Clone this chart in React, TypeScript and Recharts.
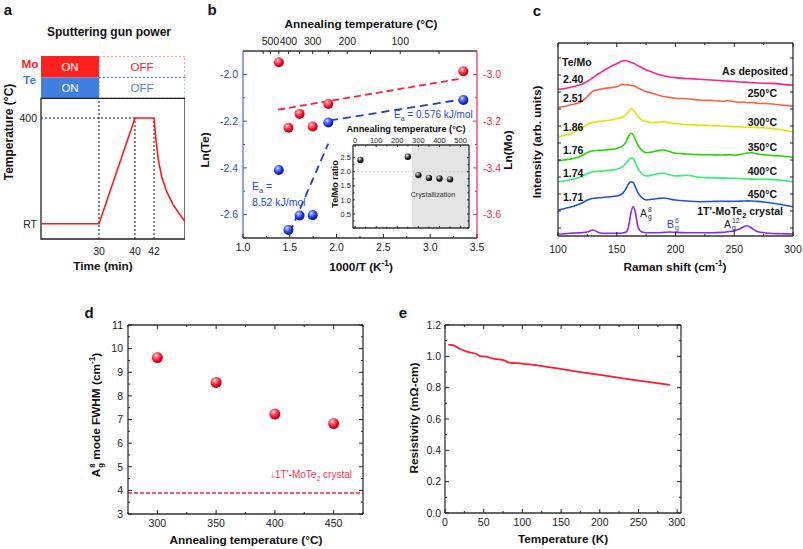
import React from "react"
import { ComposedChart, Line, Scatter, XAxis, YAxis, ReferenceLine, ReferenceArea } from "recharts"

const FONT = '"Liberation Sans", Arial, Helvetica, sans-serif'

// ---------- a: process schematic ----------
const RT = 25
const profileTime = [0, 30, 40, 42, 42.65, 43.4, 44.5, 46.1, 48.2, 50.4, 52] // min
const profileTemp = [RT, RT, 400, 400, 322, 251, 192, 139, 92, 57, 33] // °C
const timeMarks = [30, 40, 42]
// the time axis of the schematic is not to scale: segment knots -> axis units
const timeKnots = [0, 30, 40, 42, 52]
const axisKnots = [0, 58, 94, 113, 144]

// ---------- b: Arrhenius plot ----------
const annealTemps = [25, 250, 300, 350, 400, 450]
const lnTe = [-2.11, -2.206, -2.602, -2.604, -2.666, -2.409]
const lnMo = [-2.987, -3.127, -3.223, -3.169, -3.228, -2.948]
const fitMoX = [1.375, 3.345]
const fitMoY = [-3.151, -3.017]
const fitTeLowX = [1.93, 3.34]
const fitTeLowY = [-2.197, -2.107]
const fitTeHighX = [1.5, 1.911]
const fitTeHighY = [-2.677, -2.296]
const topTempTicks = [550, 500, 450, 400, 350, 300, 250, 200, 150, 100, 50]
const topTempLabels = [500, 400, 300, 200, 100]

// inset: Te/Mo ratio
const insetTemps = [25, 250, 300, 350, 400, 450]
const insetRatio = [2.42, 2.53, 1.88, 1.78, 1.76, 1.73]
const crystallizationStart = 270

// ---------- c: Raman spectra ----------
const ramanShift = [100, 105, 110, 115, 120, 125, 130, 135, 140, 145, 150, 155, 158, 160, 162, 164, 166, 168, 171, 175, 180, 185, 190, 195, 200, 210, 220, 230, 240, 245, 250, 255, 258, 261, 265, 270, 280, 290, 300]
const specAsDeposited = [146.7, 147.3, 148.5, 150.0, 151.5, 154.5, 158.5, 162.5, 166.3, 169.5, 172.3, 175.0, 175.3, 174.6, 173.8, 173.0, 171.6, 170.4, 168.5, 166.0, 164.0, 161.8, 160.2, 159.0, 158.4, 157.5, 156.8, 156.0, 155.2, 154.9, 154.5, 154.0, 153.9, 153.6, 153.4, 153.0, 152.6, 151.9, 150.8]
const spec250 = [128.7, 129.5, 131.0, 132.2, 134.3, 139.5, 145.0, 146.5, 147.6, 148.4, 149.2, 151.6, 151.0, 151.3, 150.5, 150.2, 149.5, 148.0, 146.5, 144.6, 142.8, 141.0, 139.5, 138.6, 137.8, 137.2, 136.0, 135.6, 134.8, 135.2, 134.3, 133.6, 134.0, 133.3, 133.5, 132.8, 132.2, 131.0, 130.0]
const spec300 = [99.3, 100.5, 102.0, 104.5, 107.7, 111.8, 113.6, 114.6, 115.3, 116.0, 117.2, 119.0, 121.5, 124.2, 127.2, 126.0, 122.8, 119.5, 116.2, 114.5, 113.4, 113.8, 114.2, 113.2, 112.2, 111.4, 110.8, 110.5, 110.0, 109.6, 109.4, 109.2, 109.0, 108.8, 108.7, 108.4, 107.8, 106.2, 104.0]
const spec350 = [75.3, 76.0, 76.8, 78.0, 80.2, 83.4, 85.3, 85.6, 86.0, 86.6, 87.6, 90.0, 94.3, 99.3, 102.7, 101.0, 96.0, 91.0, 86.2, 83.4, 84.0, 85.3, 86.0, 84.4, 82.8, 82.0, 81.4, 81.2, 81.0, 81.2, 81.0, 81.5, 82.3, 83.0, 83.3, 82.0, 80.8, 80.0, 78.7]
const spec400 = [54.3, 55.0, 56.0, 57.4, 59.4, 62.6, 64.3, 64.8, 65.3, 65.9, 66.8, 69.3, 72.7, 76.0, 78.0, 77.3, 72.7, 67.7, 62.8, 60.0, 61.0, 62.2, 62.7, 61.2, 60.0, 60.7, 58.7, 58.3, 57.9, 57.8, 57.7, 57.4, 57.2, 57.0, 56.9, 56.8, 56.6, 55.8, 54.3]
const spec450 = [26.0, 27.2, 28.7, 30.4, 32.7, 36.0, 37.7, 38.2, 38.7, 39.3, 40.0, 42.7, 47.7, 52.0, 54.3, 53.3, 48.7, 43.3, 38.7, 36.0, 36.7, 37.5, 38.0, 37.0, 36.0, 35.0, 34.3, 34.5, 34.8, 34.6, 34.7, 34.9, 35.0, 35.1, 35.0, 34.6, 33.3, 31.5, 29.3]
const specCrystal = [1.7, 2.2, 2.7, 3.0, 3.3, 4.0, 6.0, 3.3, 2.7, 2.7, 2.7, 3.0, 4.0, 9.3, 22.7, 29.5, 22.7, 9.3, 4.3, 3.3, 3.3, 3.3, 3.6, 4.0, 3.6, 3.3, 3.3, 3.3, 3.6, 4.3, 5.3, 7.3, 9.3, 10.3, 7.7, 4.3, 2.7, 2.3, 2.0]
const ratioLabels = ["2.40", "2.51", "1.86", "1.76", "1.74", "1.71"]
const sampleLabels = ["As deposited", "250°C", "300°C", "350°C", "400°C", "450°C"]

// ---------- d: FWHM ----------
const fwhmTemps = [300, 350, 400, 450]
const fwhm = [9.62, 8.57, 7.23, 6.83]
const crystalFwhm = 3.89

// ---------- e: resistivity ----------
const resTemp = [4.3, 8.6, 19.4, 28, 40.9, 45.2, 53.8, 62.4, 77.5, 81.8, 92.6, 114.1, 157.2, 200.3, 243.3, 290.7]
const resistivity = [1.073, 1.073, 1.047, 1.03, 1.015, 1.002, 0.998, 0.985, 0.973, 0.962, 0.956, 0.945, 0.913, 0.881, 0.85, 0.818]

// helpers
const toAxis = (t: number) => {
  for (let i = 1; i < timeKnots.length; i++) {
    if (t <= timeKnots[i]) {
      const f = (t - timeKnots[i - 1]) / (timeKnots[i] - timeKnots[i - 1])
      return axisKnots[i - 1] + f * (axisKnots[i] - axisKnots[i - 1])
    }
  }
  return axisKnots[axisKnots.length - 1]
}
const invT = (t: number) => 1000 / (t + 273.15)
const range = (a: number, b: number, step: number) => {
  const out: number[] = []
  for (let v = a; v <= b + step / 1000; v += step) out.push(Math.round(v * 10000) / 10000)
  return out
}
const every = (step: number) => (v: number) => Math.abs(v / step - Math.round(v / step)) < 1e-6
const pairs = (xs: number[], ys: number[]) => xs.map((x, i) => ({ x, y: ys[i] }))

const TICK_FONT = 10.5
const TITLE_FONT = 11.8

type Side = "top" | "bottom" | "left" | "right"
interface TickOpts {
  major?: (v: number) => boolean
  fmt?: (v: number) => string
  color?: string
  lineColor?: string
  size?: number
  gap?: number
  len?: number
  minorLen?: number
}

// inward ticks (Origin style), label outside
function makeTick(side: Side, o: TickOpts = {}) {
  const { major = () => true, fmt, color = "#222", lineColor, size = TICK_FONT, gap = 4, len = 4, minorLen = 2 } = o
  return (props: any) => {
    const { x, y, payload } = props
    const v = Number(payload.value)
    const isMaj = major(v)
    const l = isMaj ? len : minorLen
    const label = isMaj && fmt ? fmt(v) : ""
    let x2 = x, y2 = y, tx = x, ty = y
    let anchor: "middle" | "start" | "end" = "middle"
    if (side === "bottom") {
      y2 = y - l
      ty = y + gap + size * 0.75
    } else if (side === "top") {
      y2 = y + l
      ty = y - gap
    } else if (side === "left") {
      x2 = x + l
      tx = x - gap
      ty = y + size * 0.36
      anchor = "end"
    } else {
      x2 = x - l
      tx = x + gap
      ty = y + size * 0.36
      anchor = "start"
    }
    return (
      <g>
        {l > 0 && <line x1={x} y1={y} x2={x2} y2={y2} stroke={lineColor ?? color} strokeWidth={1} />}
        {label && (
          <text x={tx} y={ty} textAnchor={anchor} fontSize={size} fill={color} fontFamily={FONT}>
            {label}
          </text>
        )}
      </g>
    )
  }
}

const axisBase = {
  type: "number" as const,
  tickSize: 0,
  tickMargin: 0,
  tickLine: false,
  interval: 0 as const,
  allowDataOverflow: true,
}
const frameLine = { stroke: "#333", strokeWidth: 1.3 }
const noMargin = { top: 0, right: 0, bottom: 0, left: 0 }

function Balls() {
  const stops = (id: string, light: string, mid: string, dark: string) => (
    <radialGradient id={id} cx="38%" cy="32%" r="70%">
      <stop offset="0%" stopColor="#ffffff" />
      <stop offset="22%" stopColor={light} />
      <stop offset="65%" stopColor={mid} />
      <stop offset="100%" stopColor={dark} />
    </radialGradient>
  )
  return (
    <defs>
      {stops("ballRed", "#ff7a88", "#ff0a2a", "#9a0012")}
      {stops("ballBlue", "#7a8cff", "#1432e6", "#06107a")}
      {stops("ballBlack", "#9a9a9a", "#1a1a1a", "#000000")}
    </defs>
  )
}

const ball = (id: string, r: number) => (props: any) => <circle cx={props.cx} cy={props.cy} r={r} fill={`url(#${id})`} />

function Txt({ x, y, children, size = TITLE_FONT, bold = true, color = "#111", rotate = false, align = "center" }: any) {
  const tx = align === "center" ? "-50%" : align === "right" ? "-100%" : "0"
  return (
    <div
      style={{
        position: "absolute",
        left: x,
        top: y,
        transform: `translate(${tx}, -50%)${rotate ? " rotate(-90deg)" : ""}`,
        fontSize: size,
        fontWeight: bold ? 700 : 400,
        color,
        whiteSpace: "nowrap",
        lineHeight: 1,
      }}
    >
      {children}
    </div>
  )
}

// stacked sub/superscript, e.g. A with g below and 8 above
function Mode({ base, sub, sup }: { base: string; sub: string; sup: string }) {
  return (
    <span>
      {base}
      <span style={{ display: "inline-flex", flexDirection: "column", verticalAlign: "middle", fontSize: "0.65em", lineHeight: 1, marginLeft: 1 }}>
        <span>{sup}</span>
        <span>{sub}</span>
      </span>
    </span>
  )
}

function PanelA() {
  const data = pairs(profileTime.map(toAxis), profileTemp)
  const x30 = toAxis(30)
  const x40 = toAxis(40)
  const x42 = toAxis(42)
  return (
    <div style={{ position: "absolute", left: 9, top: 56 }}>
      <ComposedChart width={176} height={205} margin={noMargin}>
        <XAxis
          {...axisBase}
          dataKey="x"
          domain={[0, 144]}
          ticks={timeMarks.map(toAxis)}
          height={22}
          axisLine={false}
          tick={makeTick("bottom", { len: 0, gap: 8, fmt: (v) => String(timeMarks[timeMarks.map(toAxis).findIndex((p) => Math.abs(p - v) < 1e-6)]) })}
        />
        <YAxis
          {...axisBase}
          domain={[-29, 620]}
          ticks={[RT, 400]}
          width={32}
          axisLine={false}
          tick={makeTick("left", { len: 0, gap: 4, fmt: (v) => (v === RT ? "RT" : String(v)) })}
        />
        {/* sputtering gun state bars */}
        <ReferenceArea x1={0} x2={x30} y1={544} y2={620} fill="#ff2020" fillOpacity={1} stroke="none" ifOverflow="visible" label={{ value: "ON", position: "center", fill: "#fff", fontSize: 11.5 }} />
        <ReferenceArea x1={x30} x2={144} y1={544} y2={620} fill="#fff" fillOpacity={1} stroke="#ff3b3b" strokeDasharray="2 2" ifOverflow="visible" label={{ value: "OFF", position: "center", fill: "#ff2020", fontSize: 11.5 }} />
        <ReferenceArea x1={0} x2={x30} y1={470} y2={544} fill="#3f7fe0" fillOpacity={1} stroke="none" ifOverflow="visible" label={{ value: "ON", position: "center", fill: "#fff", fontSize: 11.5 }} />
        <ReferenceArea x1={x30} x2={144} y1={470} y2={544} fill="#fff" fillOpacity={1} stroke="#4a86e8" strokeDasharray="2 2" ifOverflow="visible" label={{ value: "OFF", position: "center", fill: "#4a86e8", fontSize: 11.5 }} />
        {/* temperature frame */}
        <ReferenceArea x1={0} x2={144} y1={-29} y2={470} fill="none" stroke="#222" strokeWidth={1.3} ifOverflow="visible" />
        <ReferenceLine segment={[{ x: x30, y: -29 }, { x: x30, y: 470 }]} stroke="#111" strokeDasharray="2 2" ifOverflow="visible" />
        <ReferenceLine segment={[{ x: x40, y: -29 }, { x: x40, y: 400 }]} stroke="#111" strokeDasharray="2 2" ifOverflow="visible" />
        <ReferenceLine segment={[{ x: x42, y: -29 }, { x: x42, y: 400 }]} stroke="#111" strokeDasharray="2 2" ifOverflow="visible" />
        <ReferenceLine segment={[{ x: 0, y: 400 }, { x: x40, y: 400 }]} stroke="#111" strokeDasharray="2 2" ifOverflow="visible" />
        <Line data={data} dataKey="y" type="linear" stroke="#ff1a1a" strokeWidth={1.6} dot={false} isAnimationActive={false} />
      </ComposedChart>
    </div>
  )
}

function PanelB() {
  const te = pairs(annealTemps.map(invT), lnTe)
  const mo = pairs(annealTemps.map(invT), lnMo)
  const blue = "#3050e0"
  const red = "#ff2a50"
  return (
    <div style={{ position: "absolute", left: 211, top: 31 }}>
      <ComposedChart width={298} height={227} margin={noMargin}>
        <Balls />
        <XAxis
          {...axisBase}
          xAxisId="b"
          dataKey="x"
          domain={[1, 3.5]}
          ticks={range(1, 3.5, 0.25)}
          height={20}
          axisLine={frameLine}
          tick={makeTick("bottom", { major: every(0.5), fmt: (v) => v.toFixed(1), gap: 5 })}
        />
        <XAxis
          {...axisBase}
          xAxisId="t"
          orientation="top"
          dataKey="x"
          domain={[1, 3.5]}
          ticks={topTempTicks.map(invT)}
          height={20}
          axisLine={frameLine}
          tick={makeTick("top", { major: (v) => topTempLabels.includes(Math.round(1000 / v - 273.15)), fmt: (v) => String(Math.round(1000 / v - 273.15)), gap: 6, len: 3, minorLen: 3 })}
        />
        <YAxis
          {...axisBase}
          yAxisId="l"
          domain={[-2.7, -1.9]}
          ticks={range(-2.7, -1.9, 0.1)}
          width={32}
          axisLine={{ stroke: "#5f7ef0", strokeWidth: 1.4 }}
          tick={makeTick("left", { major: every(0.2), fmt: (v) => v.toFixed(1), color: blue, gap: 5 })}
        />
        <YAxis
          {...axisBase}
          yAxisId="r"
          orientation="right"
          domain={[-3.7, -2.9]}
          ticks={range(-3.7, -2.9, 0.1)}
          width={32}
          axisLine={{ stroke: "#ff4466", strokeWidth: 1.4 }}
          tick={makeTick("right", { major: every(0.2), fmt: (v) => v.toFixed(1), color: red, gap: 6 })}
        />
        <Line xAxisId="b" yAxisId="r" data={pairs(fitMoX, fitMoY)} dataKey="y" stroke="#ff2040" strokeWidth={1.8} strokeDasharray="7 4" dot={false} isAnimationActive={false} />
        <Line xAxisId="b" yAxisId="l" data={pairs(fitTeLowX, fitTeLowY)} dataKey="y" stroke="#2040d8" strokeWidth={1.8} strokeDasharray="8 5" dot={false} isAnimationActive={false} />
        <Line xAxisId="b" yAxisId="l" data={pairs(fitTeHighX, fitTeHighY)} dataKey="y" stroke="#2040d8" strokeWidth={1.8} strokeDasharray="8 5" dot={false} isAnimationActive={false} />
        <Scatter xAxisId="b" yAxisId="r" data={mo} dataKey="y" shape={ball("ballRed", 5)} isAnimationActive={false} />
        <Scatter xAxisId="b" yAxisId="l" data={te} dataKey="y" shape={ball("ballBlue", 5)} isAnimationActive={false} />
      </ComposedChart>
    </div>
  )
}

function Inset() {
  const pts = pairs(insetTemps, insetRatio)
  return (
    <div style={{ position: "absolute", left: 337, top: 133 }}>
      <ComposedChart width={134} height={97} margin={noMargin}>
        <Balls />
        <XAxis
          {...axisBase}
          xAxisId="t"
          orientation="top"
          dataKey="x"
          domain={[-10, 540]}
          ticks={range(0, 500, 50)}
          height={12}
          axisLine={frameLine}
          tick={makeTick("top", { major: every(100), fmt: (v) => String(v), size: 7.5, gap: 2, len: 2, minorLen: 1.5 })}
        />
        <XAxis {...axisBase} xAxisId="b" dataKey="x" domain={[-10, 540]} ticks={range(0, 500, 50)} height={2} axisLine={frameLine} tick={makeTick("bottom", { major: every(100), len: 2, minorLen: 1.5 })} />
        <YAxis
          {...axisBase}
          yAxisId="l"
          domain={[0, 2.95]}
          ticks={range(0, 2.5, 0.25)}
          width={16}
          axisLine={frameLine}
          tick={makeTick("left", { major: every(0.5), fmt: (v) => (v === 0 ? "" : v.toFixed(1)), size: 7.5, gap: 2, len: 2, minorLen: 1.5 })}
        />
        <YAxis {...axisBase} yAxisId="r" orientation="right" domain={[0, 2.95]} ticks={range(0, 2.5, 0.25)} width={2} axisLine={frameLine} tick={makeTick("right", { major: every(0.5), len: 2, minorLen: 1.5 })} />
        <ReferenceArea xAxisId="t" yAxisId="l" x1={-10} x2={crystallizationStart} y1={0} y2={2.95} fill="#fff" fillOpacity={1} stroke="none" />
        <ReferenceArea xAxisId="t" yAxisId="l" x1={crystallizationStart} x2={540} y1={0} y2={2.95} fill="#e4e4e4" fillOpacity={1} stroke="none" />
        <ReferenceLine xAxisId="t" yAxisId="l" y={2} stroke="#c8c8c8" strokeDasharray="2 2" />
        <Scatter xAxisId="t" yAxisId="l" data={pts} dataKey="y" shape={ball("ballBlack", 3.2)} isAnimationActive={false} />
      </ComposedChart>
    </div>
  )
}

function PanelC() {
  const rows = ramanShift.map((x, i) => ({
    x,
    asDep: specAsDeposited[i],
    s250: spec250[i],
    s300: spec300[i],
    s350: spec350[i],
    s400: spec400[i],
    s450: spec450[i],
    crystal: specCrystal[i],
  }))
  const series = [
    { key: "asDep", color: "#ff2090" },
    { key: "s250", color: "#ff6040" },
    { key: "s300", color: "#e2e200" },
    { key: "s350", color: "#22d800" },
    { key: "s400", color: "#30f070" },
    { key: "s450", color: "#2050e8" },
    { key: "crystal", color: "#8a2be8" },
  ]
  const yTicks = [8, 25, 42, 59, 76, 93, 110, 127, 144, 161, 178]
  return (
    <div style={{ position: "absolute", left: 542, top: 37 }}>
      <ComposedChart width={267} height={221} data={rows} margin={noMargin}>
        <XAxis {...axisBase} dataKey="x" domain={[100, 300]} ticks={range(100, 300, 25)} height={22} axisLine={frameLine} tick={makeTick("bottom", { major: every(50), fmt: (v) => String(v), gap: 9 })} />
        <XAxis {...axisBase} xAxisId="t" orientation="top" dataKey="x" domain={[100, 300]} ticks={range(100, 300, 25)} height={6} axisLine={frameLine} tick={makeTick("top", { major: every(50) })} />
        <YAxis {...axisBase} domain={[0, 193]} ticks={yTicks} width={16} axisLine={frameLine} tick={makeTick("left", { len: 3 })} />
        <YAxis {...axisBase} yAxisId="r" orientation="right" domain={[0, 193]} ticks={yTicks} width={16} axisLine={frameLine} tick={makeTick("right", { len: 3 })} />
        {series.map((s) => (
          <Line key={s.key} dataKey={s.key} type="monotone" stroke={s.color} strokeWidth={1.6} dot={false} isAnimationActive={false} />
        ))}
      </ComposedChart>
    </div>
  )
}

function PanelD() {
  const pts = pairs(fwhmTemps, fwhm)
  return (
    <div style={{ position: "absolute", left: 98, top: 315 }}>
      <ComposedChart width={269} height={221} margin={noMargin}>
        <Balls />
        <XAxis {...axisBase} dataKey="x" domain={[275, 475]} ticks={range(275, 475, 25)} height={22} axisLine={frameLine} tick={makeTick("bottom", { major: every(50), fmt: (v) => String(v), gap: 5 })} />
        <XAxis {...axisBase} xAxisId="t" orientation="top" dataKey="x" domain={[275, 475]} ticks={range(275, 475, 25)} height={10} axisLine={frameLine} tick={makeTick("top", { major: every(50) })} />
        <YAxis {...axisBase} domain={[3, 11]} ticks={range(3, 11, 0.5)} width={30} axisLine={frameLine} tick={makeTick("left", { major: every(1), fmt: (v) => String(v), gap: 5 })} />
        <YAxis {...axisBase} yAxisId="r" orientation="right" domain={[3, 11]} ticks={range(3, 11, 0.5)} width={4} axisLine={frameLine} tick={makeTick("right", { major: every(1) })} />
        <ReferenceLine y={crystalFwhm} stroke="#ff2244" strokeWidth={1.6} strokeDasharray="4 2" />
        <Scatter data={pts} dataKey="y" shape={ball("ballRed", 5.5)} isAnimationActive={false} />
      </ComposedChart>
    </div>
  )
}

function PanelE() {
  const data = pairs(resTemp, resistivity)
  return (
    <div style={{ position: "absolute", left: 411, top: 315 }}>
      <ComposedChart width={274} height={220} margin={noMargin}>
        <XAxis {...axisBase} dataKey="x" domain={[0, 305]} ticks={range(0, 300, 25)} height={22} axisLine={frameLine} tick={makeTick("bottom", { major: every(50), fmt: (v) => String(v), gap: 5 })} />
        <XAxis {...axisBase} xAxisId="t" orientation="top" dataKey="x" domain={[0, 305]} ticks={range(0, 300, 25)} height={10} axisLine={frameLine} tick={makeTick("top", { major: every(50) })} />
        <YAxis {...axisBase} domain={[0, 1.2]} ticks={range(0, 1.2, 0.1)} width={34} axisLine={frameLine} tick={makeTick("left", { major: every(0.2), fmt: (v) => v.toFixed(1), gap: 4 })} />
        <YAxis {...axisBase} yAxisId="r" orientation="right" domain={[0, 1.2]} ticks={range(0, 1.2, 0.1)} width={4} axisLine={frameLine} tick={makeTick("right", { major: every(0.2) })} />
        <Line data={data} dataKey="y" type="monotone" stroke="#ff1a2e" strokeWidth={1.8} dot={false} isAnimationActive={false} />
      </ComposedChart>
    </div>
  )
}

export default function App() {
  const ratioY = [79, 98, 127, 150, 173, 197]
  const sampleY = [71, 93, 122, 147, 171, 194]
  return (
    <div style={{ position: "absolute", left: 0, top: 0, width: 803, height: 549, background: "#fff", overflow: "hidden", fontFamily: FONT, color: "#111" }}>
      <PanelA />
      <PanelB />
      <Inset />
      <PanelC />
      <PanelD />
      <PanelE />

      {/* panel letters */}
      <Txt x={8} y={9} size={15}>a</Txt>
      <Txt x={212} y={9} size={15}>b</Txt>
      <Txt x={537} y={10} size={15}>c</Txt>
      <Txt x={89} y={312} size={15}>d</Txt>
      <Txt x={403} y={312} size={15}>e</Txt>

      {/* a */}
      <Txt x={109} y={32} size={12}>Sputtering gun power</Txt>
      <Txt x={30} y={65} color="#ff1a1a">Mo</Txt>
      <Txt x={29.5} y={81} color="#3f7fe0">Te</Txt>
      <Txt x={9} y={132} size={12} rotate>Temperature (°C)</Txt>
      <Txt x={103} y={267}>Time (min)</Txt>

      {/* b */}
      <Txt x={361} y={25}>Annealing temperature (°C)</Txt>
      <Txt x={206} y={150} rotate>Ln(Te)</Txt>
      <Txt x={509} y={150} rotate>Ln(Mo)</Txt>
      <Txt x={361} y={267}>
        1000/T (K<sup style={{ fontSize: "0.7em" }}>-1</sup>)
      </Txt>
      <Txt x={394} y={116} size={10} bold={false} color="#2848d8" align="left">
        E<sub style={{ fontSize: "0.7em" }}>a</sub> = 0.576 kJ/mol
      </Txt>
      <Txt x={252} y={188} size={10.5} bold={false} color="#2848d8" align="left">
        E<sub style={{ fontSize: "0.7em" }}>a</sub> =
      </Txt>
      <Txt x={252} y={202} size={10.5} bold={false} color="#2848d8" align="left">8.52 kJ/mol</Txt>
      <Txt x={406} y={130} size={9.2}>Annealing temperature (°C)</Txt>
      <Txt x={335} y={184} size={9} rotate>Te/Mo ratio</Txt>
      <Txt x={433} y={195} size={7.2} bold={false} color="#333">Crystallization</Txt>

      {/* c */}
      <Txt x={538} y={142} rotate>Intensity (arb. units)</Txt>
      <Txt x={675} y={267}>
        Raman shift (cm<sup style={{ fontSize: "0.7em" }}>-1</sup>)
      </Txt>
      <Txt x={562} y={62} size={10.5} align="left">Te/Mo</Txt>
      {ratioLabels.map((r, i) => (
        <Txt key={r} x={563} y={ratioY[i]} size={10.5} align="left">{r}</Txt>
      ))}
      {sampleLabels.map((s, i) => (
        <Txt key={s} x={i === 0 ? 788 : 777} y={sampleY[i]} size={10.5} align="right">{s}</Txt>
      ))}
      <Txt x={783} y={213} size={10.5} align="right">
        1T'-MoTe<sub style={{ fontSize: "0.7em" }}>2</sub> crystal
      </Txt>
      <Txt x={640} y={214} size={10.5} bold={false} color="#222" align="left"><Mode base="A" sub="g" sup="8" /></Txt>
      <Txt x={667} y={225} size={10.5} bold={false} color="#3a3aa8" align="left"><Mode base="B" sub="g" sup="6" /></Txt>
      <Txt x={724} y={225} size={10.5} bold={false} color="#222" align="left"><Mode base="A" sub="g" sup="12" /></Txt>

      {/* d */}
      <Txt x={97} y={415} rotate>
        <Mode base="A" sub="g" sup="8" /> mode FWHM (cm<sup style={{ fontSize: "0.7em" }}>-1</sup>)
      </Txt>
      <Txt x={246} y={541}>Annealing temperature (°C)</Txt>
      <Txt x={270} y={476} size={10} bold={false} color="#ff3355" align="left">
        ↓1T'-MoTe<sub style={{ fontSize: "0.7em" }}>2</sub> crystal
      </Txt>

      {/* e */}
      <Txt x={415} y={418} rotate>Resistivity (mΩ-cm)</Txt>
      <Txt x={563} y={540}>Temperature (K)</Txt>
    </div>
  )
}
